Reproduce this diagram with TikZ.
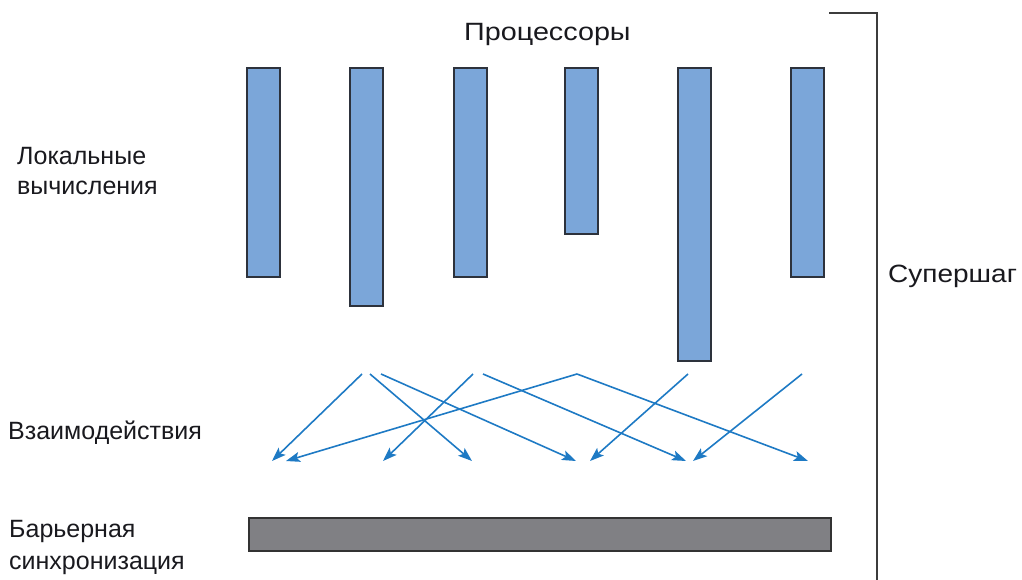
\documentclass[tikz,border=0pt]{standalone}
\usepackage{fontspec}
\usepackage{graphicx}
\setmainfont{Liberation Sans}
\usetikzlibrary{arrows.meta}
\definecolor{barblue}{RGB}{123,166,217}
\definecolor{barline}{RGB}{45,50,60}
\definecolor{barrgray}{RGB}{128,128,132}
\definecolor{arrowblue}{RGB}{30,122,196}
\definecolor{brk}{RGB}{60,60,60}
\definecolor{txt}{RGB}{25,25,30}
\tikzset{
  procbar/.style={draw=barline, line width=1.3pt, fill=barblue, anchor=north west, inner sep=0pt, outer sep=0pt, minimum width=33pt},
  barrier/.style={draw=black!80, line width=1.5pt, fill=barrgray, anchor=north west, inner sep=0pt, outer sep=0pt, minimum width=582pt, minimum height=33pt},
  msg/.style={draw=arrowblue, line width=1.6pt, -{Stealth[length=14pt,width=10pt,inset=3pt]}},
  lbl/.style={text=txt, font=\fontsize{25}{30}\selectfont, anchor=base west, inner sep=0pt, align=left},
}
\begin{document}
\begin{tikzpicture}[x=1pt,y=-1pt]
\useasboundingbox (0,0) rectangle (1022,580);
% processors
\node[procbar, minimum height=209pt] (p1) at (247,68) {};
\node[procbar, minimum height=238pt] (p2) at (350,68) {};
\node[procbar, minimum height=209pt] (p3) at (454,68) {};
\node[procbar, minimum height=166pt] (p4) at (565,68) {};
\node[procbar, minimum height=293pt] (p5) at (678,68) {};
\node[procbar, minimum height=209pt] (p6) at (791,68) {};
% barrier
\node[barrier] (bar) at (249,518) {};
% labels
\node[lbl] (proc) at (464,41) {\scalebox{1.15}[1]{Процессоры}};
\node[lbl] (loc1) at (17,165) {Локальные};
\node[lbl] (loc2) at (17,195) {вычисления};
\node[lbl] (inter) at (8,439) {Взаимодействия};
\node[lbl] (bs1) at (9,537) {Барьерная};
\node[lbl] (bs2) at (9,569) {синхронизация};
\node[lbl] (sup) at (888,282) {\scalebox{1.12}[1]{Супершаг}};
% superstep bracket
\coordinate (bk1) at (829,13);
\coordinate (bk2) at (877,13);
\coordinate (bk3) at (877,580);
\draw[brk, line width=1.6pt] (bk1) -- (bk2) -- (bk3);
% message arrows
\coordinate (s1) at (362,374);
\coordinate (s2) at (370,374);
\coordinate (s3) at (381,374);
\coordinate (s4) at (473,374);
\coordinate (s5) at (483,374);
\coordinate (s6) at (577,374);
\coordinate (s7) at (688,374);
\coordinate (s8) at (802,374);
\coordinate (e1) at (272,461);
\coordinate (e2) at (286,461);
\coordinate (e3) at (383,461);
\coordinate (e4) at (472,461);
\coordinate (e5) at (576,461);
\coordinate (e6) at (590,461);
\coordinate (e7) at (686,461);
\coordinate (e8) at (693,461);
\coordinate (e9) at (808,461);
\draw[msg] (s1) -- (e1);
\draw[msg] (s2) -- (e4);
\draw[msg] (s3) -- (e5);
\draw[msg] (s4) -- (e3);
\draw[msg] (s5) -- (e7);
\draw[msg] (s6) -- (e2);
\draw[msg] (s6) -- (e9);
\draw[msg] (s7) -- (e6);
\draw[msg] (s8) -- (e8);
\end{tikzpicture}
\end{document}
